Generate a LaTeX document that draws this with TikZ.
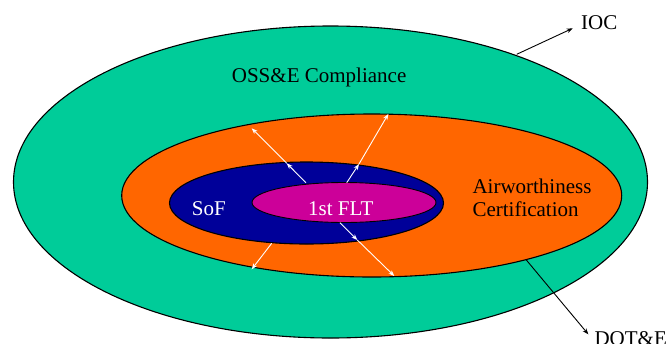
\documentclass[tikz,border=0pt]{standalone}
\usepackage{fontspec}
\setmainfont{Liberation Serif}
\usetikzlibrary{shapes.geometric,arrows.meta}
\definecolor{ossgreen}{RGB}{0,204,153}
\definecolor{airorange}{RGB}{255,102,0}
\definecolor{sofblue}{RGB}{0,0,153}
\definecolor{fltmag}{RGB}{204,0,153}
\tikzset{
  ring/.style={ellipse, draw=black, line width=1.1pt, inner sep=0pt, minimum width=#1},
  lbl/.style={inner sep=0pt, anchor=base west, font=\fontsize{21}{23.3}\selectfont},
  warrow/.style={draw=white, line width=0.9pt, -{Stealth[length=6pt,width=4.5pt]}},
  barrow/.style={draw=black, line width=0.9pt, -{Stealth[length=6pt,width=4.5pt]}},
}
\begin{document}
\begin{tikzpicture}[x=1pt,y=-1pt]
\useasboundingbox (0,0) rectangle (668,343);
% ellipses
\node[ring=634pt, minimum height=312pt, fill=ossgreen] (oss) at (330.5,182) {};
\node[ring=500pt, minimum height=163pt, fill=airorange] (air) at (371.7,195.5) {};
\node[ring=274pt, minimum height=82pt, fill=sofblue] (sof) at (306.5,203) {};
\node[ring=184pt, minimum height=40pt, fill=fltmag, line width=0.9pt] (flt) at (344,202.5) {};
% texts
\node[lbl] (tOSS) at (231.7,82.3) {OSS\&E Compliance};
\node[lbl] (tAir1) at (472.3,193.3) {Airworthiness};
\node[lbl] (tAir2) at (472.3,216.7) {Certification};
\node[lbl, text=white] (tSoF) at (191.7,215) {SoF};
\node[lbl, text=white] (tFLT) at (308,215) {1st FLT};
\node[lbl] (tIOC) at (581,29.3) {IOC};
\node[lbl] (tDOT) at (594.3,345.7) {DOT\&E};
% white arrow coordinates
\coordinate (s1) at (306,182.7); \coordinate (m1) at (286.7,163.3); \coordinate (e1) at (251.7,128.3);
\coordinate (s2) at (346.7,182.7); \coordinate (m2) at (359,164); \coordinate (e2) at (388.3,114);
\coordinate (s3) at (340,222.7); \coordinate (m3) at (357.3,240); \coordinate (e3) at (394.3,276);
\coordinate (s4) at (271.7,243.3); \coordinate (e4) at (251.7,269.3);
\draw[warrow] (s1) -- (m1); \draw[warrow] (m1) -- (e1);
\draw[warrow] (s2) -- (m2); \draw[warrow] (m2) -- (e2);
\draw[warrow] (s3) -- (m3); \draw[warrow] (m3) -- (e3);
\draw[warrow] (s4) -- (e4);
% black arrows
\coordinate (ioc0) at (516.7,54.3); \coordinate (ioc1) at (572.7,28.3);
\coordinate (dot0) at (526,259.6); \coordinate (dot1) at (588.3,334.3);
\draw[barrow] (ioc0) -- (ioc1);
\draw[barrow] (dot0) -- (dot1);
\end{tikzpicture}
\end{document}
